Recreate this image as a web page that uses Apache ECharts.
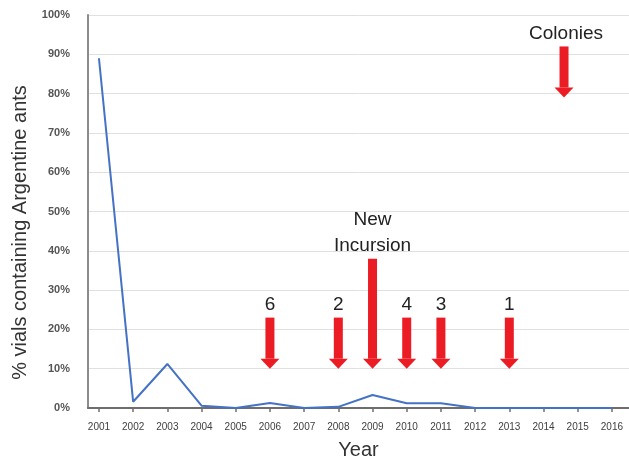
<!DOCTYPE html>
<html><head><meta charset="utf-8">
<script src="https://cdn.jsdelivr.net/npm/echarts@6/dist/echarts.min.js"></script>
<style>html,body{margin:0;padding:0;background:#fff}#c{width:629px;height:465px}</style>
</head><body><div id="c"></div>
<script>
const years = [2001,2002,2003,2004,2005,2006,2007,2008,2009,2010,2011,2012,2013,2014,2015,2016];
const pctVials = [89,1.6,11.2,0.6,0,1.3,0,0.3,3.3,1.2,1.2,0,0,0,0,0];
const yTicks = [0,10,20,30,40,50,60,70,80,90,100];
// annotation arrows: year, top value, tip value, label lines
const arrowYears = [2006,2008,2009,2010,2011,2013,2014.6];
const arrowTops = [23,23,38,23,23,23,92];
const arrowTips = [10,10,10,10,10,10,79];
const arrowLabels = ['6','2','New\nIncursion','4','3','1','Colonies'];

const arrowData = arrowYears.map((y,i)=>[y,arrowTops[i],arrowTips[i],arrowLabels[i]]);

const chart = echarts.init(document.getElementById('c'));
chart.setOption({
  animation:false,
  grid:{left:88,right:0,top:15,bottom:52,containLabel:false},
  xAxis:{type:'value',min:2000.68,max:2016.5,
    name:'Year',nameLocation:'middle',nameGap:32,
    nameTextStyle:{fontFamily:'Liberation Sans',fontSize:20,color:'#333'},
    axisLine:{show:true,lineStyle:{color:'#6e6e6e',width:2}},
    axisTick:{show:true,customValues:years,length:4,lineStyle:{color:'#6e6e6e',width:1.5}},
    axisLabel:{customValues:years,formatter:v=>String(Math.round(v)),fontFamily:'Liberation Sans',fontSize:10,color:'#404040',margin:14},
    splitLine:{show:false}},
  yAxis:{type:'value',min:0,max:100,interval:10,
    name:'% vials containing Argentine ants',nameLocation:'middle',nameGap:58,
    nameTextStyle:{fontFamily:'Liberation Sans',fontSize:20,color:'#333',padding:[0,42,0,0]},
    axisLine:{show:true,lineStyle:{color:'#8c8c8c',width:2}},
    axisTick:{show:false},
    axisLabel:{formatter:'{value}%',fontFamily:'Liberation Sans',fontWeight:'bold',fontSize:11,color:'#555',margin:18},
    splitLine:{lineStyle:{color:'#e0e0e0',width:1}}},
  series:[
    {type:'line',data:years.map((y,i)=>[y,pctVials[i]]),symbol:'none',
      lineStyle:{color:'#4472c4',width:2},z:3},
    {type:'custom',data:arrowData,z:4,
      renderItem:function(params,api){
        const x=api.value(0);
        const top=api.coord([x,api.value(1)]);
        const tip=api.coord([x,api.value(2)]);
        const headH=10, shaftW=9, headW=19;
        const px=top[0];
        const label=arrowLabels[params.dataIndex];
        const lines=label.split('\n');
        const children=[
          {type:'rect',shape:{x:px-shaftW/2,y:top[1],width:shaftW,height:tip[1]-headH-top[1]},style:{fill:'#ec1c24'}},
          {type:'polygon',shape:{points:[[px-headW/2,tip[1]-headH],[px+headW/2,tip[1]-headH],[px,tip[1]]]},style:{fill:'#ec1c24'}}
        ];
        lines.forEach((t,k)=>{
          children.push({type:'text',style:{text:t,x:px+(lines.length===1&&t.length>3?2:0),y:top[1]-3-(lines.length-1-k)*26,
            textAlign:'center',textVerticalAlign:'bottom',font:'19px "Liberation Sans"',fill:'#222'}});
        });
        return {type:'group',children:children};
      }}
  ]
});
</script></body></html>
